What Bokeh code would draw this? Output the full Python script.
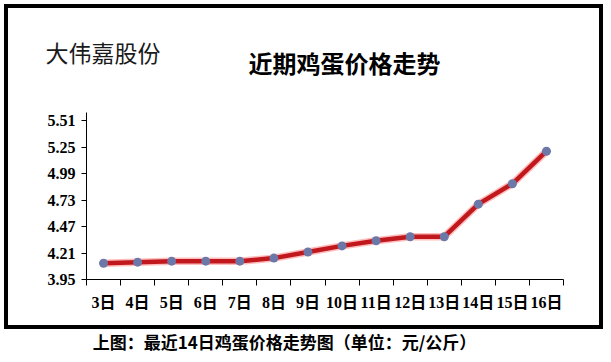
from bokeh.plotting import figure
from bokeh.layouts import column
from bokeh.models import FixedTicker, Label, ColumnDataSource, Range1d
from bokeh.embed import file_html
from bokeh.resources import INLINE

days = ["3日", "4日", "5日", "6日", "7日", "8日", "9日", "10日", "11日", "12日", "13日", "14日", "15日", "16日"]
prices = [4.11, 4.12, 4.13, 4.13, 4.13, 4.16, 4.22, 4.28, 4.33, 4.37, 4.37, 4.69, 4.89, 5.21]
y_ticks = [3.95, 4.21, 4.47, 4.73, 4.99, 5.25, 5.51]
company = "大伟嘉股份"
title = "近期鸡蛋价格走势"
caption = "上图：最近14日鸡蛋价格走势图（单位：元/公斤）"

W = 611
HEAD_H, CHART_H, CAP_H = 100, 230, 32
FONT = "'Liberation Serif', 'Noto Sans CJK SC', serif"
CJK = "'Noto Sans CJK SC'"


def text_panel(height):
    f = figure(width=W, height=height, output_backend="svg", toolbar_location=None,
               x_range=Range1d(0, W), y_range=Range1d(height, 0),
               min_border=0, x_axis_type=None, y_axis_type=None)
    f.frame_align = False
    f.outline_line_color = None
    f.xgrid.visible = False
    f.ygrid.visible = False
    f.background_fill_color = None
    f.border_fill_color = None
    return f


# header: company name and title
head = text_panel(HEAD_H)
head.add_layout(Label(x=45, y=51, text=company, text_font=CJK, text_font_size="23px",
                      text_color="#1a1a1a", text_baseline="middle"))
head.add_layout(Label(x=344, y=61.5, text=title, text_font=CJK, text_font_style="bold",
                      text_font_size="24px", text_color="black", text_align="center",
                      text_baseline="middle"))

# chart
FL, FR, FT, FB = 86, 563, 12, 179
p = figure(width=W, height=CHART_H, output_backend="svg", toolbar_location=None,
           x_range=(0, len(days)), y_range=(3.95, 5.59),
           min_border_left=FL, min_border_right=W - FR, min_border_top=FT,
           min_border_bottom=CHART_H - FB)
p.frame_align = False
p.outline_line_color = None
p.xgrid.visible = False
p.ygrid.visible = False
p.background_fill_color = None
p.border_fill_color = None

xs = [i + 0.5 for i in range(len(days))]
src = ColumnDataSource(dict(x=xs, y=prices))
p.line("x", "y", source=src, line_color="#ff4040", line_width=7.5, line_alpha=0.35)
p.line("x", "y", source=src, line_color="#c0181c", line_width=4.5)
p.scatter("x", "y", source=src, size=9, fill_color="#6b78a8", line_color=None)

p.xaxis.ticker = FixedTicker(ticks=xs, minor_ticks=list(range(len(days) + 1)))
p.xaxis.major_label_overrides = {x: d for x, d in zip(xs, days)}
p.xaxis.major_tick_out = 0
p.xaxis.major_tick_in = 0
p.xaxis.minor_tick_out = 6
p.xaxis.minor_tick_in = 0
p.xaxis.minor_tick_line_color = "black"
p.xaxis.axis_line_color = "black"
p.xaxis.major_label_text_font = FONT
p.xaxis.major_label_text_font_style = "bold"
p.xaxis.major_label_text_font_size = "16px"
p.xaxis.major_label_text_color = "black"
p.xaxis.major_label_standoff = 8

p.yaxis.ticker = FixedTicker(ticks=y_ticks, minor_ticks=[])
p.yaxis.major_label_overrides = {v: f"{v:.2f}" for v in y_ticks}
p.yaxis.major_tick_out = 5
p.yaxis.major_tick_in = 0
p.yaxis.axis_line_color = "black"
p.yaxis.major_tick_line_color = "black"
p.yaxis.major_label_text_font = FONT
p.yaxis.major_label_text_font_style = "bold"
p.yaxis.major_label_text_font_size = "16px"
p.yaxis.major_label_text_color = "black"
p.yaxis.major_label_standoff = 6

# caption below the box
cap = text_panel(CAP_H)
cap.add_layout(Label(x=284, y=11, text=caption, text_font=CJK, text_font_style="bold",
                     text_font_size="17px", text_color="black", text_align="center",
                     text_baseline="middle"))

bar = "linear-gradient(#000,#000)"
border_css = ", ".join([
    f"{bar} 4px 4px / 599px 4px no-repeat",
    f"{bar} 4px 325px / 599px 4px no-repeat",
    f"{bar} 4px 4px / 4px 325px no-repeat",
    f"{bar} 599px 4px / 4px 325px no-repeat",
    "#ffffff",
])
page = column(head, p, cap, spacing=0, styles={"background": border_css})

open("out.html", "w").write(file_html(page, INLINE))
